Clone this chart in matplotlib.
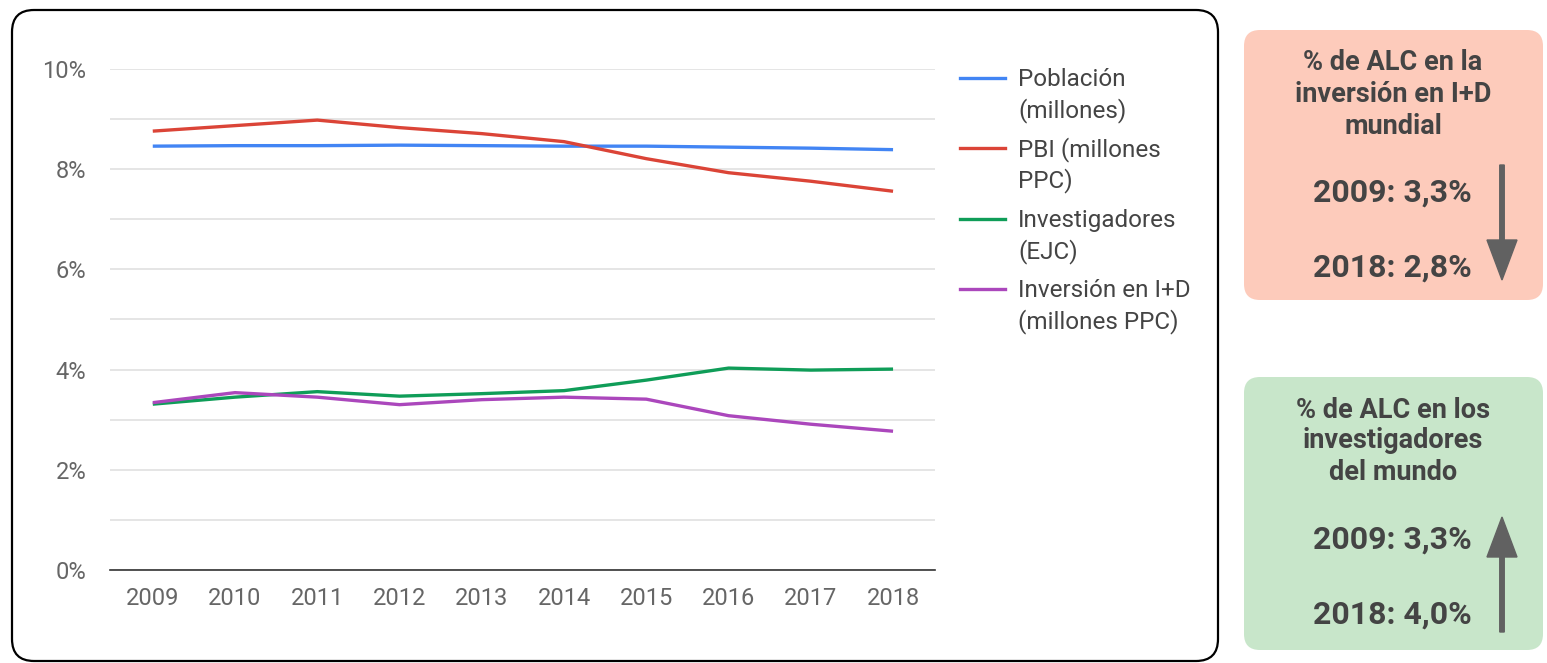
import matplotlib
matplotlib.use("Agg")
import matplotlib.pyplot as plt
from matplotlib.patches import FancyBboxPatch, FancyArrow
from matplotlib.lines import Line2D
from matplotlib.transforms import IdentityTransform

plt.rcParams['font.family'] = ['Roboto', 'DejaVu Sans']

years = [2009, 2010, 2011, 2012, 2013, 2014, 2015, 2016, 2017, 2018]
poblacion = [8.46, 8.47, 8.47, 8.48, 8.47, 8.46, 8.46, 8.44, 8.42, 8.39]
pbi = [8.76, 8.87, 8.98, 8.83, 8.71, 8.55, 8.21, 7.93, 7.76, 7.56]
investigadores = [3.31, 3.45, 3.56, 3.47, 3.52, 3.58, 3.79, 4.03, 3.99, 4.01]
inversion = [3.34, 3.54, 3.45, 3.30, 3.40, 3.45, 3.41, 3.08, 2.91, 2.77]

series_labels = [["Población", "(millones)"],
                 ["PBI (millones", "PPC)"],
                 ["Investigadores", "(EJC)"],
                 ["Inversión en I+D", "(millones PPC)"]]
series_colors = ["#4285F4", "#DB4437", "#0F9D58", "#AB47BC"]

yticks = [0, 2, 4, 6, 8, 10]
ytick_labels = ["0%", "2%", "4%", "6%", "8%", "10%"]

box1_title = ["% de ALC en la", "inversión en I+D", "mundial"]
box1_vals = ["2009: 3,3%", "2018: 2,8%"]
box2_title = ["% de ALC en los", "investigadores", "del mundo"]
box2_vals = ["2009: 3,3%", "2018: 4,0%"]

W, H = 1547, 663
fig = plt.figure(figsize=(W / 100, H / 100), dpi=100)
fig.patch.set_facecolor("white")
T = IdentityTransform()

def py(y):
    return H - y

# chart panel
panel = FancyBboxPatch((12, py(661)), 1206, 651, boxstyle="round,pad=0,rounding_size=22",
                       transform=T, facecolor="white", edgecolor="black", linewidth=1.6,
                       zorder=-5)
fig.patches.append(panel)

ax = fig.add_axes([110 / W, 1 - 570 / H, 825 / W, (570 - 69) / H])
ax.set_zorder(5)
ax.set_facecolor("none")
for vals, col in zip([poblacion, pbi, investigadores, inversion], series_colors):
    ax.plot(years, vals, color=col, linewidth=2.4, solid_capstyle="butt", zorder=3)

ax.set_xlim(2008.48, 2018.51)
ax.set_ylim(0, 10)
ax.set_yticks(yticks)
ax.set_yticklabels(ytick_labels)
ax.set_yticks([1, 3, 5, 7, 9], minor=True)
ax.set_xticks(years)
ax.set_xticklabels([str(y) for y in years])
ax.grid(True, which="both", axis="y", color="#e3e3e3", linewidth=1.3)
for s in ["top", "right", "left"]:
    ax.spines[s].set_visible(False)
ax.spines["bottom"].set_color("#333333")
ax.spines["bottom"].set_linewidth(1.2)
ax.tick_params(axis="both", which="both", length=0, labelsize=17, colors="#666666")
ax.tick_params(axis="y", pad=17)
ax.tick_params(axis="x", pad=12.5)
ax.set_axisbelow(True)

# legend (manual)
for i, (lab, col) in enumerate(zip(series_labels, series_colors)):
    yc = 78 + 70.3 * i
    fig.lines.append(Line2D([960, 1005], [py(yc), py(yc)], transform=T, color=col, linewidth=2.4))
    for j, line in enumerate(lab):
        fig.text(1018 / W, 1 - (yc + 1.5 + 31 * j) / H, line, fontsize=17.5, color="#444444",
                 ha="left", va="center")

# side boxes
def side_box(top, bottom, color, title, vals, val_ys, title_ys, arrow_from, arrow_to):
    b = FancyBboxPatch((1244, py(bottom)), 299, bottom - top,
                       boxstyle="round,pad=0,rounding_size=16", transform=T,
                       facecolor=color, edgecolor="none")
    fig.patches.append(b)
    for t, y in zip(title, title_ys):
        fig.text(1393 / W, 1 - y / H, t, fontsize=19.5, fontweight="bold", color="#444444",
                 ha="center", va="center")
    for v, y in zip(vals, val_ys):
        fig.text(1392 / W, 1 - y / H, v, fontsize=23, fontweight="bold", color="#444444",
                 ha="center", va="center")
    x = 1502
    a = FancyArrow(x, py(arrow_from), 0, py(arrow_to) - py(arrow_from), width=4.5,
                   head_width=30, head_length=40, length_includes_head=True,
                   transform=T, color="#616161")
    fig.patches.append(a)

side_box(30, 300, "#FDCBBB", box1_title, box1_vals, [193, 268], [62, 94, 126], 165, 280)
side_box(377, 650, "#C8E6CA", box2_title, box2_vals, [540, 615], [410, 441, 472], 632, 517)

fig.savefig("out.png", dpi=100)
